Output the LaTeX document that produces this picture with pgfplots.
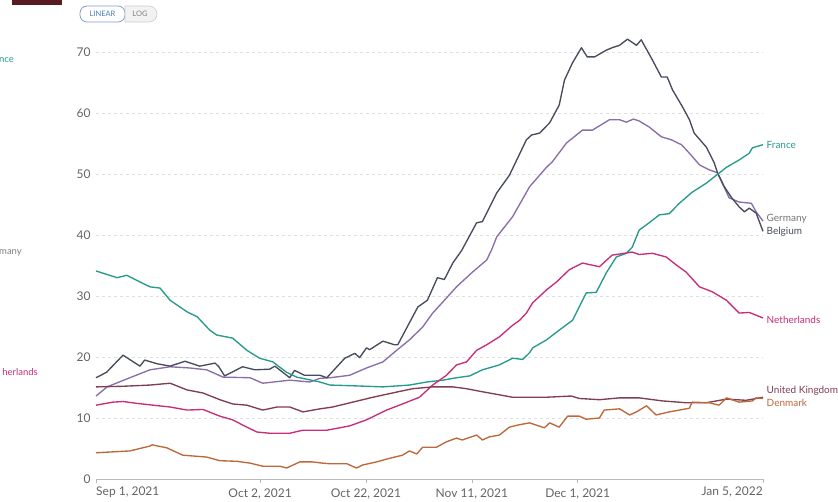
\documentclass[border=0pt]{standalone}
\usepackage{pgfplots}
\pgfplotsset{compat=1.18}
\usepackage{fontspec}
\setmainfont{Lato}
\definecolor{cFR}{RGB}{38,154,140}
\definecolor{cBE}{RGB}{72,76,92}
\definecolor{cDE}{RGB}{138,110,170}
\definecolor{cNL}{RGB}{200,45,122}
\definecolor{cUK}{RGB}{128,62,82}
\definecolor{cDK}{RGB}{188,104,58}
\definecolor{ticktext}{RGB}{100,100,100}
\definecolor{btnblue}{RGB}{70,120,180}
\definecolor{topred}{RGB}{90,26,34}
\begin{document}
\begin{tikzpicture}
\useasboundingbox (0,0) rectangle (838pt,502pt);
% header bits of the screenshot
\fill[topred] (12pt,497pt) rectangle (62pt,502pt);
\draw[btnblue!70, line width=0.8pt, rounded corners=7pt, fill=white] (80pt,480pt) rectangle (125pt,496pt);
\draw[gray!40, line width=0.6pt, fill=gray!10] (125pt,480pt) -- (149pt,480pt) arc (-90:90:8pt) -- (125pt,496pt) -- cycle;
\node[font=\fontsize{7.5}{8}\selectfont, text=btnblue] at (102.5pt,488pt) {LINEAR};
\node[font=\fontsize{7.5}{8}\selectfont, text=gray] at (140pt,488pt) {LOG};
% cut-off labels at the left edge
\node[anchor=east, inner sep=0pt, font=\fontsize{9.5}{10}\selectfont, text=cFR] at (14pt,442pt) {nce};
\node[anchor=east, inner sep=0pt, font=\fontsize{9.5}{10}\selectfont, text=gray] at (22pt,249pt) {many};
\node[anchor=east, inner sep=0pt, font=\fontsize{9.5}{10}\selectfont, text=cNL] at (38pt,130pt) {herlands};
\begin{axis}[
  at={(96pt,23pt)}, anchor=south west,
  scale only axis, width=667pt, height=457.5pt,
  xmin=0, xmax=126, ymin=0, ymax=75,
  axis x line*=bottom, axis y line*=left,
  y axis line style={draw=none},
  x axis line style={draw=gray!55, line width=0.6pt},
  xtick={0,31,51,71,91,126},
  xticklabels={{},{Oct 2, 2021},{Oct 22, 2021},{Nov 11, 2021},{Dec 1, 2021},{}},
  ytick={0,10,20,30,40,50,60,70},
  ytick style={draw=none},
  xtick style={draw=gray!55, line width=0.6pt},
  major tick length=4pt, tick align=outside,
  ymajorgrids, grid style={dashed, gray!25, line width=0.5pt},
  /pgf/number format/assume math mode=true,
  tick label style={font=\fontsize{12}{14}\selectfont, text=ticktext},
  xticklabel style={yshift=-2pt},
  yticklabel style={xshift=2pt},
  clip=false,
  every axis plot/.append style={line width=1.35pt, line join=round, mark=none},
]
% Germany
\addplot[cDE] coordinates {(0,13.6)(2.1,15.1)(6.4,16.6)(10.2,17.9)(14,18.4)(17.7,18.2)(20.9,17.9)(24,16.7)(29.1,16.6)(31.5,15.7)(36.6,16.2)(40.4,15.9)(42.3,16.5)(44.2,16.6)(47.9,17)(51.1,18.2)(54.2,19.2)(56.8,21.1)(59.2,22.8)(61.7,24.9)(63.6,27.2)(65.5,29)(68.1,31.5)(71.1,33.9)(73.8,35.9)(74.7,37.5)(75.7,39.7)(78.7,43)(81.9,47.9)(85.1,51.1)(86.2,52)(88.9,55.1)(91.9,57.2)(93.8,57.2)(97,58.9)(98.9,58.9)(100.2,58.5)(101.5,59)(102.6,58.7)(104.5,57.7)(106.8,56.1)(108.7,55.6)(110.6,54.8)(112.1,53.4)(114,51.5)(115.8,50.7)(117.4,50.2)(118.3,48.5)(119.6,46.1)(121.5,45.4)(123.8,45.2)(124.7,43.8)(126,42.3)};
% Belgium
\addplot[cBE] coordinates {(0,16.6)(2,17.5)(5.1,20.3)(8.3,18.5)(9.2,19.5)(11.5,18.9)(14,18.5)(16.8,19.3)(19.6,18.5)(22.5,19)(23.2,18.4)(24.3,16.9)(27.7,18.4)(30,17.9)(32.8,18)(33.8,18.5)(36.6,16.6)(37.5,17.8)(39.4,17)(42.3,17)(43.6,16.6)(47,19.8)(48.9,20.6)(49.8,19.9)(51.1,21.5)(51.7,21.2)(54.2,22.6)(56.4,22)(57,22)(59.2,25.6)(60.8,28.2)(62.6,29.3)(64.5,33)(65.8,32.7)(67.4,35.4)(69.1,37.5)(71.9,42)(73,42.2)(75.7,46.9)(78.1,49.8)(81.3,55.6)(82.3,56.4)(83.8,56.7)(85.7,58.4)(87.5,61.3)(88.5,65.4)(90,68.2)(91.7,70.7)(92.8,69.2)(94.2,69.2)(96.4,70.3)(97.5,70.7)(98.9,71.1)(100.4,72.1)(102.1,71.1)(103,72)(105.1,68.7)(106.8,65.9)(107.9,65.9)(108.9,63.8)(110.8,61)(112.1,58.9)(113,56.7)(115.3,54.4)(116.8,51.8)(117.4,50.2)(118.7,47.9)(120,46.2)(121.5,44.6)(122.5,43.8)(123.4,44.4)(124.7,43.6)(126,40.6)};
% France
\addplot[cFR] coordinates {(0,34.1)(4,33)(5.8,33.4)(8.3,32.3)(10.2,31.5)(12.1,31.3)(14,29.3)(17.2,27.4)(19.1,26.6)(21.5,24.4)(22.8,23.6)(25.8,23.1)(28.5,21.1)(30.9,19.8)(33.4,19.2)(36,17.5)(37.9,16.7)(42.3,15.9)(44.2,15.4)(47.9,15.3)(54.2,15.1)(59.2,15.4)(62.5,15.9)(65.5,16.2)(68.1,16.6)(70.6,16.9)(73,17.9)(76.2,18.7)(78.7,19.8)(80.6,19.6)(81.9,20.7)(82.5,21.5)(85.1,22.8)(87.5,24.4)(90,26)(92.6,30.5)(94.5,30.6)(96.4,33.8)(98.3,36.4)(100.2,37)(101.3,38)(102.6,40.8)(104.5,42)(106.4,43.3)(108.3,43.5)(110.2,45.2)(112.6,47)(115.3,48.5)(117.2,49.8)(119.1,51.1)(121.5,52.3)(123.4,53.4)(124,54.3)(126,54.8)};
% Netherlands
\addplot[cNL] coordinates {(0,12.1)(3.2,12.6)(5.1,12.7)(7.7,12.4)(10.8,12.1)(14,11.8)(17.2,11.3)(20.2,11.4)(23.4,10.3)(25.8,9.7)(28.5,8.5)(30.4,7.7)(32.8,7.5)(36.6,7.5)(39.1,8)(43.6,8)(47.9,8.7)(51.1,9.7)(54.9,11.3)(57.9,12.3)(61.1,13.4)(63.6,15.4)(66.2,17)(68.1,18.7)(70,19.2)(71.9,21.1)(73.8,22)(76.2,23.3)(78.7,25.2)(80,26)(81.3,27.2)(82.5,28.9)(85.1,31)(87,32.3)(89.4,34.3)(91.9,35.4)(95.1,34.8)(97.5,36.7)(101.3,37.2)(102.6,36.8)(105.1,37)(107.7,36.4)(109.6,35.1)(111.5,33.9)(114,31.5)(116.4,30.7)(119.1,29.3)(121.5,27.2)(123.4,27.3)(126,26.4)};
% United Kingdom
\addplot[cUK] coordinates {(0,15.1)(5.1,15.2)(10.2,15.4)(14,15.7)(17.2,14.6)(20.2,14.1)(23.4,13)(25.8,12.3)(28.5,12.1)(31.5,11.3)(34.2,11.8)(36.6,11.8)(39.1,11)(42.3,11.5)(44.7,11.8)(48.5,12.6)(52.3,13.4)(56,14.1)(59.8,14.8)(63.6,15.1)(67.4,15.1)(70,14.8)(73,14.3)(76.2,13.8)(78.7,13.4)(81.9,13.4)(85,13.4)(89.8,13.6)(91.3,13.2)(95.1,13)(98.9,13.3)(102.6,13.3)(107,12.8)(111.5,12.5)(115.3,12.5)(119.1,13.1)(122.8,12.9)(126,13.4)};
% Denmark
\addplot[cDK] coordinates {(0,4.3)(6.4,4.6)(10.2,5.4)(10.6,5.6)(13.4,5.1)(16.4,3.9)(20.9,3.6)(23.4,3)(26.6,2.9)(29.1,2.6)(31.5,2.1)(34.7,2.1)(36,1.8)(38.5,2.8)(40.9,2.8)(42.8,2.6)(44.2,2.5)(47.4,2.5)(49.2,1.8)(50.4,2.3)(53,2.8)(55.5,3.4)(57.9,3.9)(59.2,4.6)(60.6,4.1)(61.7,5.2)(64.3,5.2)(66.2,6.1)(68.1,6.7)(69.2,6.4)(71.9,7.2)(73,6.4)(74.3,6.9)(76.2,7.2)(78.1,8.5)(80,8.9)(81.9,9.2)(84.7,8.4)(85.7,9.2)(87.5,8.5)(89.1,10.3)(91.3,10.3)(92.6,9.8)(95.1,10)(96,11.3)(98.9,11.5)(100.8,10.5)(102.1,11)(104,12)(105.8,10.5)(108.3,11)(110.2,11.3)(112.1,11.6)(112.6,12.6)(115.8,12.5)(117.7,12.1)(119.1,13.3)(121.5,12.6)(124,12.8)(124.7,13.3)(126,13.2)};
% first and last x labels
\node[anchor=north west, inner sep=0pt, font=\fontsize{12}{14}\selectfont, text=ticktext] at (axis cs:0,0) [yshift=-8pt] {Sep 1, 2021};
\node[anchor=north east, inner sep=0pt, font=\fontsize{12}{14}\selectfont, text=ticktext] at (axis cs:126,0) [yshift=-8pt] {Jan 5, 2022};
% line labels
\begin{scope}[every node/.style={anchor=west, inner sep=0pt, font=\fontsize{10}{12}\selectfont}]
\node[text=cFR] at (axis cs:126,54.8) [xshift=3.5pt] {France};
\node[text=gray!90!black] at (axis cs:126,42.6) [xshift=3.5pt] {Germany};
\node[text=cBE] at (axis cs:126,40.5) [xshift=3.5pt] {Belgium};
\node[text=cNL] at (axis cs:126,26.1) [xshift=3.5pt] {Netherlands};
\node[text=cUK] at (axis cs:126,14.4) [xshift=3.5pt] {United Kingdom};
\node[text=cDK] at (axis cs:126,12.5) [xshift=3.5pt] {Denmark};
\end{scope}
\end{axis}
\end{tikzpicture}
\end{document}
